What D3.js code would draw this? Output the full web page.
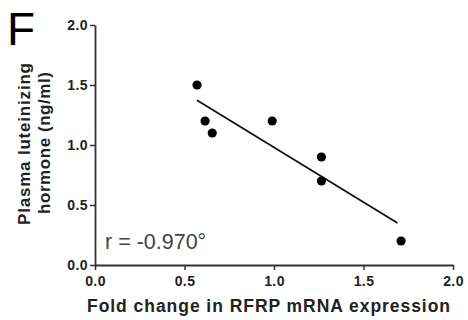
<!DOCTYPE html>
<html>
<head>
<meta charset="utf-8">
<script src="https://cdn.jsdelivr.net/npm/d3@7"></script>
<style>
  body { margin: 0; background: #fff; }
  svg { font-family: "Liberation Sans", Arial, sans-serif; }
</style>
</head>
<body>
<script>
// fold change in RFRP mRNA vs plasma LH
const foldChange = [0.57, 0.615, 0.655, 0.99, 1.265, 1.265, 1.71];
const plasmaLH = [1.5, 1.2, 1.1, 1.2, 0.9, 0.7, 0.2];
const fitRange = [0.57, 1.69];
const xTicks = [0.0, 0.5, 1.0, 1.5, 2.0];
const yTicks = [0.0, 0.5, 1.0, 1.5, 2.0];
const rLabel = "r = -0.970°";
const panelLabel = "F";

const W = 468, H = 320;
const margin = { top: 25, right: 15, bottom: 55, left: 95 };

const svg = d3.select("body").append("svg")
  .attr("width", W)
  .attr("height", H);

const x = d3.scaleLinear().domain([0, 2]).range([margin.left, 453]);
const y = d3.scaleLinear().domain([0, 2]).range([265, margin.top]);

const axisColor = "#333";

// x axis
const gx = svg.append("g")
  .attr("transform", `translate(0,${y(0)})`)
  .call(d3.axisBottom(x).tickValues(xTicks).tickFormat(d3.format(".1f")).tickSize(5).tickSizeOuter(0));
// y axis
const gy = svg.append("g")
  .attr("transform", `translate(${x(0)},0)`)
  .call(d3.axisLeft(y).tickValues(yTicks).tickFormat(d3.format(".1f")).tickSize(5).tickSizeOuter(0));

[gx, gy].forEach(g => {
  g.select(".domain").attr("stroke", axisColor).attr("stroke-width", 1.8);
  g.selectAll(".tick line").attr("stroke", axisColor).attr("stroke-width", 1.5);
  g.selectAll(".tick text")
    .attr("fill", "#222")
    .style("font-size", "14px")
    .style("letter-spacing", "0.4px")
    .style("font-weight", "bold")
    .style("font-family", "'Liberation Sans', Arial, sans-serif");
});
gx.selectAll(".tick text").attr("dy", "0.95em").attr("y", 8);
gy.selectAll(".tick text").attr("x", -7);

// regression fit
const mx = d3.mean(foldChange), my = d3.mean(plasmaLH);
const sxy = d3.sum(foldChange.map((v, i) => (v - mx) * (plasmaLH[i] - my)));
const sxx = d3.sum(foldChange.map(v => (v - mx) ** 2));
const slope = sxy / sxx, intercept = my - slope * mx;

svg.append("path")
  .datum(fitRange.map(v => [v, intercept + slope * v]))
  .attr("fill", "none")
  .attr("stroke", "#111")
  .attr("stroke-width", 1.8)
  .attr("d", d3.line().x(d => x(d[0])).y(d => y(d[1])));

// points
svg.append("g").selectAll("circle")
  .data(foldChange.map((v, i) => [v, plasmaLH[i]]))
  .join("circle")
  .attr("cx", d => x(d[0]))
  .attr("cy", d => y(d[1]))
  .attr("r", 4.6)
  .attr("fill", "#000");

// r label
svg.append("text")
  .attr("x", 105)
  .attr("y", 249)
  .attr("fill", "#444")
  .style("font-size", "21.5px")
  .text(rLabel);

// x title
svg.append("text")
  .attr("x", 87)
  .attr("y", 312)
  .attr("textLength", 363)
  .attr("lengthAdjust", "spacing")
  .attr("fill", "#222")
  .style("font-size", "17.5px")
  .style("font-weight", "bold")
  .text("Fold change in RFRP mRNA expression");

// y title
const yt = svg.append("text")
  .attr("transform", "translate(0,144) rotate(-90)")
  .attr("fill", "#222")
  .style("font-size", "17px")
  .style("font-weight", "bold");
yt.append("tspan").attr("x", -81).attr("y", 30)
  .attr("textLength", 162).attr("lengthAdjust", "spacing")
  .text("Plasma luteinizing");
yt.append("tspan").attr("x", -70).attr("y", 50)
  .attr("textLength", 142).attr("lengthAdjust", "spacing")
  .text("hormone (ng/ml)");

// panel letter
svg.append("text")
  .attr("x", 7)
  .attr("y", 45)
  .attr("fill", "#000")
  .style("font-size", "46px")
  .text(panelLabel);
</script>
</body>
</html>
